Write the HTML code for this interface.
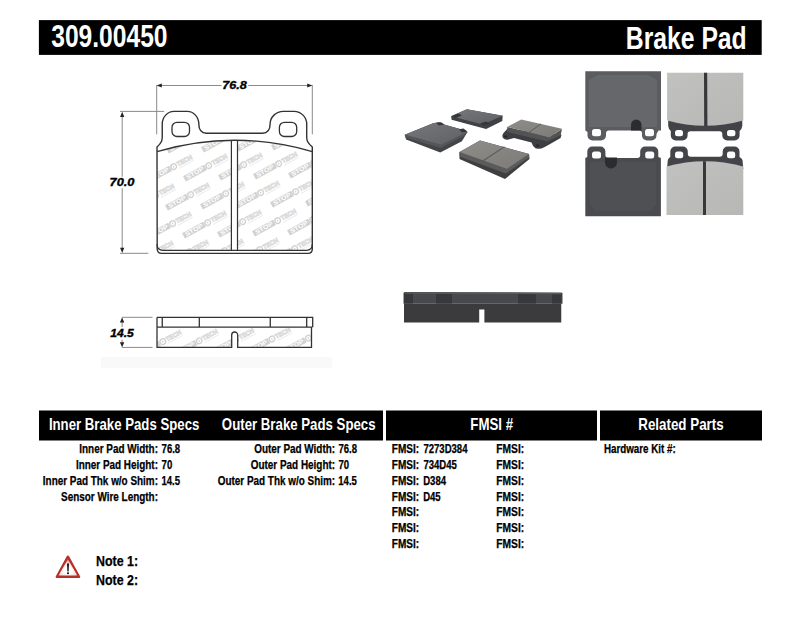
<!DOCTYPE html>
<html><head><meta charset="utf-8"><style>
html,body{margin:0;padding:0;background:#fff;width:800px;height:619px;overflow:hidden}
svg{position:absolute;left:0;top:0;display:block}
text{font-family:"Liberation Sans",sans-serif;font-weight:bold}
</style></head><body>
<svg width="800" height="619" viewBox="0 0 800 619">
<rect x="101" y="357" width="231" height="11" fill="#f9f9f9"/>
<rect x="38.9" y="20.1" width="722.8" height="34.8" fill="#000"/>
<rect x="39" y="410.5" width="344" height="30" fill="#000"/>
<rect x="386" y="410.5" width="211" height="30" fill="#000"/>
<rect x="600" y="410.5" width="162" height="30" fill="#000"/>
<defs>
<g id="logo">
 <rect x="0" y="-6" width="24" height="6" fill="#d2d2d2"/>
 <text x="2.3" y="-1.1" font-size="6" fill="#fff" textLength="19.4" lengthAdjust="spacingAndGlyphs">STOP</text>
 <circle cx="27.6" cy="-3" r="2.8" fill="none" stroke="#d2d2d2" stroke-width="1.4"/>
 <path d="M27,-4.6 L28.4,-3.1 L27,-1.3 Z" fill="#d2d2d2"/>
 <text x="31.6" y="-0.9" font-size="6.6" fill="none" stroke="#d9d9d9" stroke-width="0.8" textLength="16.5" lengthAdjust="spacingAndGlyphs">TECH</text>
 <rect x="31.6" y="0.7" width="16.5" height="0.8" fill="#e8e8e8"/>
</g>
<clipPath id="fm1"><path id="fmp" d="M157,151.6 Q234.5,128.9 312.3,151.6 L312.3,244.3 Q312.3,250.3 306.3,250.3 L163,250.3 Q157,250.3 157,244.3 Z"/></clipPath>
<clipPath id="fm2"><rect x="157" y="327.2" width="155" height="20.2"/></clipPath>
</defs>
<g clip-path="url(#fm1)"><use href="#logo" transform="translate(151.9,125.4) rotate(-28.5)"/><use href="#logo" transform="translate(133.9,154.4) rotate(-28.5)"/><use href="#logo" transform="translate(186.9,124.4) rotate(-28.5)"/><use href="#logo" transform="translate(168.9,153.4) rotate(-28.5)"/><use href="#logo" transform="translate(150.9,182.4) rotate(-28.5)"/><use href="#logo" transform="translate(132.9,211.4) rotate(-28.5)"/><use href="#logo" transform="translate(221.9,123.4) rotate(-28.5)"/><use href="#logo" transform="translate(203.9,152.4) rotate(-28.5)"/><use href="#logo" transform="translate(185.9,181.4) rotate(-28.5)"/><use href="#logo" transform="translate(167.9,210.4) rotate(-28.5)"/><use href="#logo" transform="translate(149.9,239.4) rotate(-28.5)"/><use href="#logo" transform="translate(131.9,268.4) rotate(-28.5)"/><use href="#logo" transform="translate(256.9,122.4) rotate(-28.5)"/><use href="#logo" transform="translate(238.9,151.4) rotate(-28.5)"/><use href="#logo" transform="translate(220.9,180.4) rotate(-28.5)"/><use href="#logo" transform="translate(202.9,209.4) rotate(-28.5)"/><use href="#logo" transform="translate(184.9,238.4) rotate(-28.5)"/><use href="#logo" transform="translate(166.9,267.4) rotate(-28.5)"/><use href="#logo" transform="translate(291.9,121.4) rotate(-28.5)"/><use href="#logo" transform="translate(273.9,150.4) rotate(-28.5)"/><use href="#logo" transform="translate(255.9,179.4) rotate(-28.5)"/><use href="#logo" transform="translate(237.9,208.4) rotate(-28.5)"/><use href="#logo" transform="translate(219.9,237.4) rotate(-28.5)"/><use href="#logo" transform="translate(201.9,266.4) rotate(-28.5)"/><use href="#logo" transform="translate(326.9,120.4) rotate(-28.5)"/><use href="#logo" transform="translate(308.9,149.4) rotate(-28.5)"/><use href="#logo" transform="translate(290.9,178.4) rotate(-28.5)"/><use href="#logo" transform="translate(272.9,207.4) rotate(-28.5)"/><use href="#logo" transform="translate(254.9,236.4) rotate(-28.5)"/><use href="#logo" transform="translate(236.9,265.4) rotate(-28.5)"/><use href="#logo" transform="translate(325.9,177.4) rotate(-28.5)"/><use href="#logo" transform="translate(307.9,206.4) rotate(-28.5)"/><use href="#logo" transform="translate(289.9,235.4) rotate(-28.5)"/><use href="#logo" transform="translate(271.9,264.4) rotate(-28.5)"/><use href="#logo" transform="translate(324.9,234.4) rotate(-28.5)"/><use href="#logo" transform="translate(306.9,263.4) rotate(-28.5)"/></g>
<rect x="231.4" y="135" width="6.1" height="116" fill="#fff"/>
<path d="M157,147 L157.2,249 Q157.5,253.4 161.5,253.4 L308,253.4 Q312.3,253.4 312.3,249 L312.3,147 C306.7,142 306.7,140 306.7,136.5 L306.7,124.1 A12.6,12.7 0 0 0 294.1,111.4 L283.4,111.4 A13.3,12.7 0 0 0 270.1,124.1 C270.1,130 268,133.2 262.5,133.2 L206.5,133.2 C201,133.2 198.8,130 198.8,124.1 A11.5,12.7 0 0 0 187.3,111.4 L174,111.4 A11.75,12.7 0 0 0 162.25,124.1 L162.25,136.5 C162.25,140 162.25,142 157,147 Z" fill="none" stroke="#333" stroke-width="1.4" stroke-linejoin="round"/>
<path d="M157,151.6 Q234.5,128.9 312.3,151.6 M312.3,244.3 Q312.3,250.3 306.3,250.3 L163,250.3 Q157,250.3 157,244.3" fill="none" stroke="#333" stroke-width="1.3"/>
<path d="M231.4,140.6 L231.4,250.3 M237.5,140.6 L237.5,250.3" stroke="#333" stroke-width="1.2"/>
<rect x="172" y="122.3" width="17.5" height="14.2" rx="5" fill="none" stroke="#333" stroke-width="1.3"/>
<rect x="279.4" y="122.3" width="17.3" height="14.2" rx="5" fill="none" stroke="#333" stroke-width="1.3"/>
<path d="M156.7,85 L156.7,134.3 M312.3,85 L312.3,134.3 M160,85.5 L221.5,85.5 M248.25,85.5 L309,85.5 M120,111.4 L164.2,111.4 M120,253.3 L148.3,253.3 M122.2,114 L122.2,176.75 M122.2,188.25 L122.2,250" stroke="#8a8a8a" stroke-width="1" fill="none"/>
<path d="M156.6,85.5 L161.8,83.4 L161.8,87.6 Z M312.4,85.5 L307.2,83.4 L307.2,87.6 Z M122.2,111.8 L120.1,117 L124.3,117 Z M122.2,253 L120.1,247.8 L124.3,247.8 Z" fill="#222"/>
<g clip-path="url(#fm2)">
<use href="#logo" transform="translate(103.6,358.4) rotate(-28.5)"/>
<use href="#logo" transform="translate(140.0,357.5) rotate(-28.5)"/>
<use href="#logo" transform="translate(176.4,356.6) rotate(-28.5)"/>
<use href="#logo" transform="translate(212.8,355.7) rotate(-28.5)"/>
<use href="#logo" transform="translate(249.2,354.8) rotate(-28.5)"/>
<use href="#logo" transform="translate(285.6,353.9) rotate(-28.5)"/>
<use href="#logo" transform="translate(322.0,353.0) rotate(-28.5)"/>
</g>
<rect x="231.7" y="330" width="6" height="18" fill="#fff"/>
<path d="M157,317.3 L312.7,317.3 L312.7,327.2 M157,327.2 L312.3,327.2 M157,317.3 L157,347.4 L231.7,347.4 L231.7,335 A3,3 0 0 1 237.7,335 L237.7,347.4 L311.5,347.4 L311.5,327.2 M162.25,317.3 L162.25,327.2 M199.3,317.3 L199.3,327.2 M270.25,317.3 L270.25,327.2 M306.7,317.3 L306.7,327.2" fill="none" stroke="#333" stroke-width="1.3"/>
<path d="M121.75,317.3 L152.5,317.3 M121.75,347.4 L152.5,347.4 M122.1,322 L122.1,327 M122.1,339.5 L122.1,343" stroke="#8a8a8a" stroke-width="1" fill="none"/>
<path d="M122.1,317.4 L119.9,322.5 L124.3,322.5 Z M122.1,347.3 L119.9,342.2 L124.3,342.2 Z" fill="#222"/>
<defs>
<linearGradient id="gtopA" x1="0" y1="0" x2="1" y2="1"><stop offset="0" stop-color="#76787c"/><stop offset="1" stop-color="#5e6064"/></linearGradient>
<linearGradient id="gfric" x1="0" y1="0" x2="1" y2="1"><stop offset="0" stop-color="#8e8d89"/><stop offset="1" stop-color="#7c7b77"/></linearGradient>
<linearGradient id="gback" x1="0" y1="0" x2="1" y2="1"><stop offset="0" stop-color="#66686c"/><stop offset="0.5" stop-color="#5b5d61"/><stop offset="1" stop-color="#505155"/></linearGradient>
<linearGradient id="gback2" x1="0" y1="0" x2="1" y2="1"><stop offset="0" stop-color="#56575b"/><stop offset="1" stop-color="#4a4b4f"/></linearGradient>
<linearGradient id="glite" x1="0" y1="0" x2="1" y2="1"><stop offset="0" stop-color="#c1c1bf"/><stop offset="1" stop-color="#b7b7b5"/></linearGradient>
</defs>
<path d="M451.1,116.2 L466.9,109.2 L502.7,115.75 L502.3,121 L486.1,128.9 L451.6,119.7 Z" fill="#404145"/>
<path d="M451.1,116.2 L466.9,109.2 L502.7,115.75 L482.6,124.5 Z" fill="url(#gtopA)"/>
<path d="M451.6,116.3 L458,113.6 L462,115.2 L456,118 Z M480,123.6 L486,121.5 L489.5,123.7 L483.5,125.5 Z" fill="#35363a"/>
<path d="M404.7,134.7 L433.7,123 L439.4,122.5 L444,124.4 L460,129 L467.5,131.9 L461.9,141.2 L440.3,152.5 L406.1,139.4 Z" fill="#434448"/>
<path d="M404.7,134.7 L433.7,123 L439.4,122.5 L444,124.4 L460,129 L467.5,131.9 L441.2,145 Z" fill="url(#gtopA)"/>
<path d="M436,122.8 L441,122.3 L444.5,124.6 L439,125.6 Z M459,129.2 L463.5,128.4 L467.5,131.5 L462,132.5 Z" fill="#35363a"/>
<path d="M404.7,134.7 L405.5,137.5 L440.8,148 L464.5,135.5 L467.5,131.9 L441.2,145 Z" fill="#55565a"/>
<path d="M503.5,133 Q501.5,135.5 503,138 Q505,140.3 508.5,139.5 L514,138.1 L531.5,142.6 Q532.5,146.5 535.5,148.2 Q540,149.5 543.7,147.5 L547.5,145.5 L560.6,138.1 L561.5,134.4 L507.2,129 Z" fill="#3d3e41"/>
<ellipse cx="505.6" cy="136.6" rx="1.7" ry="1.1" fill="#252527"/><ellipse cx="537.6" cy="145.7" rx="1.8" ry="1.1" fill="#252527"/>
<path d="M507.2,126.9 L507.2,132 L547.5,141.4 L560.6,135.3 L562,128.7 L549.4,137.6 Z" fill="#535355"/>
<path d="M507.2,126.9 L521.2,119.4 L562,128.7 L549.4,137.6 Z" fill="url(#gfric)"/>
<path d="M541,123.9 L528.5,132.8" stroke="#5d5c5a" stroke-width="1"/>
<path d="M459.5,152 L480,140.5 L529,154 L529.5,159 L505,179 L459.5,159 Z" fill="#3f3f42"/>
<path d="M459.5,152 L459.5,156.5 L506,173.5 L529.2,157.5 L529,154 L507,169 Z" fill="#5b5b5c"/>
<path d="M459.5,152 L480,140.5 L529,154 L507,169 Z" fill="url(#gfric)"/>
<path d="M504.5,146.8 L483.2,160.7" stroke="#5d5c5a" stroke-width="1.1"/>
<path d="M585.3,71.2 L661,71.2 L661,130.5 L658.5,130.5 L656.5,134 L656.5,135.5 A5,5 0 0 1 651.5,140.5 L647,140.5 A5,5 0 0 1 642,135.5 L642,133.5 Q642,130.5 639,130.5 L609,130.5 Q606,130.5 606,133.5 L606,135.5 A5,5 0 0 1 601,140.5 L592.5,140.5 A5,5 0 0 1 587.5,135.5 L587.5,132 L585.3,130.5 Z" fill="#5a5c60"/>
<path d="M589,80 L598,75 L648,75 L657,80 L657,127 L589,127 Z" fill="#65676b"/>
<rect x="592" y="129" width="9" height="7.2" rx="2.5" fill="#fdfdfd"/><rect x="645" y="129" width="9" height="7.2" rx="2.5" fill="#fdfdfd"/>
<path d="M631,130.5 L631,124.7 A5.25,5.25 0 0 1 641.5,124.7 L641.5,130.5 Z" fill="#2b2c2f"/>
<path d="M668.2,118 L742.3,118 L742.3,126 Q742,129 739.6,131 L739.6,135.5 A5,5 0 0 1 734.6,140.5 L727.3,140.5 A5,5 0 0 1 722.3,135.5 L722.3,134 Q722.3,131.3 719.5,131.3 L690.5,131.3 Q687.6,131.3 687.6,134 L687.6,135.5 A5,5 0 0 1 682.6,140.5 L675.8,140.5 A5,5 0 0 1 670.8,135.5 L670.8,131 Q668.5,129 668.2,126 Z" fill="#424346"/>
<rect x="675" y="130" width="8" height="6.3" rx="2.5" fill="#fdfdfd"/><rect x="727" y="130" width="8.4" height="6.3" rx="2.5" fill="#fdfdfd"/>
<path d="M667.1,72.75 L743.3,72.75 L743.3,120.5 Q705.2,131 667.1,120.5 Z" fill="url(#glite)"/>
<path d="M704,72.75 L707.2,72.75 L707.4,125.9 L704.2,125.9 Z" fill="#38383a"/>
<path d="M585.3,158 L587.3,157 L587.3,151.5 A5,5 0 0 1 592.3,146.5 L600.4,146.5 A5,5 0 0 1 605.4,151.5 L605.4,155 Q605.4,158 608.4,158 L637.2,158 Q640.2,158 640.2,155 L640.2,151.5 A5,5 0 0 1 645.2,146.5 L653.3,146.5 A5,5 0 0 1 658.3,151.5 L658.3,157 L660.9,158 L660.9,216.2 L585.3,216.2 Z" fill="#4a4b4f"/>
<path d="M590,162 L656,162 L656,205 L650,211 L596,211 L590,205 Z" fill="#4f5054"/>
<rect x="592" y="151.6" width="9" height="6.8" rx="2.5" fill="#fdfdfd"/><rect x="645.2" y="151.6" width="9" height="6.8" rx="2.5" fill="#fdfdfd"/>
<path d="M605,157.5 L605,162.5 A6,6 0 0 0 617,162.5 L617,157.5 Z" fill="#2b2c2f"/>
<path d="M667,169 L667.8,160 Q668.5,158 670.3,157 L670.3,151.5 A5,5 0 0 1 675.3,146.5 L682.8,146.5 A5,5 0 0 1 687.8,151.5 L687.8,153.8 Q687.8,156.8 690.8,156.8 L719.7,156.8 Q722.7,156.8 722.7,153.8 L722.7,151.5 A5,5 0 0 1 727.7,146.5 L734.5,146.5 A5,5 0 0 1 739.5,151.5 L739.5,157 Q741.5,158 742.5,160 L743.3,169 Z" fill="#434447"/>
<rect x="675" y="151.6" width="8.2" height="6.6" rx="2.5" fill="#fdfdfd"/><rect x="727" y="151.6" width="8.2" height="6.6" rx="2.5" fill="#fdfdfd"/>
<path d="M666.5,166.5 Q705,156 743.3,166.5 L743.3,215 L666.5,215 Z" fill="url(#glite)"/>
<path d="M703,161.2 L706,161.2 L706,215 L703,215 Z" fill="#38383a"/>
<path d="M403.5,293 L404.5,292 L561.5,292.5 L562.5,293.5 L562.5,303.8 L403.5,303.8 Z" fill="#48494c"/>
<path d="M404,303.8 L561.25,303.8 L561.25,322.5 L484.4,322.5 L484.4,309.6 L479.2,309.6 L479.2,322.5 L404,322.5 Z" fill="#3b3b3e"/>
<path d="M404,293 L413,293 L413,303.5 L404,303.5 Z M436,293 L452,293 L452,303.5 L436,303.5 Z M518,293 L536,293 L536,303.5 L518,303.5 Z M552,293 L561.5,293 L561.5,303.5 L552,303.5 Z" fill="#37383b"/>
<path d="M405,292.6 L561,293 L561,294.2 L405,293.8 Z" fill="#5a5b5e"/>
<defs><radialGradient id="gw" cx="0.5" cy="0.7" r="0.62"><stop offset="0.3" stop-color="#ffffff"/><stop offset="0.75" stop-color="#f7dcda"/><stop offset="1" stop-color="#e79d97"/></radialGradient></defs>
<path d="M67.8,555.6 Q68.6,555.6 69.2,556.6 L80.2,576.5 Q80.6,577.9 79.2,577.9 L56.6,577.9 Q55.2,577.9 55.7,576.5 L66.6,556.6 Q67.1,555.6 67.8,555.6 Z" fill="#b5302b"/>
<path d="M67.9,559.3 L77.3,575.5 L58.5,575.5 Z" fill="url(#gw)"/>
<path d="M67,563.4 L69,563.4 L68.6,571.4 L67.4,571.4 Z" fill="#111"/><rect x="67.05" y="572.4" width="1.9" height="1.7" fill="#111"/>
<text x="51.23" y="47.40" font-size="31" textLength="116.28" lengthAdjust="spacingAndGlyphs" fill="#fff">309.00450</text>
<text x="625.84" y="48.90" font-size="31.7" textLength="120.88" lengthAdjust="spacingAndGlyphs" fill="#fff">Brake Pad</text>
<text x="48.88" y="429.76" font-size="17" textLength="150.47" lengthAdjust="spacingAndGlyphs" fill="#fff">Inner Brake Pads Specs</text>
<text x="221.86" y="429.76" font-size="17" textLength="153.68" lengthAdjust="spacingAndGlyphs" fill="#fff">Outer Brake Pads Specs</text>
<text x="470.36" y="429.60" font-size="17" textLength="42.75" lengthAdjust="spacingAndGlyphs" fill="#fff">FMSI #</text>
<text x="638.31" y="429.60" font-size="17" textLength="85.35" lengthAdjust="spacingAndGlyphs" fill="#fff">Related Parts</text>
<text x="79.30" y="453.40" font-size="12" textLength="78.65" lengthAdjust="spacingAndGlyphs" fill="#000" stroke="#000" stroke-width="0.25">Inner Pad Width:</text>
<text x="75.90" y="469.25" font-size="12" textLength="82.06" lengthAdjust="spacingAndGlyphs" fill="#000" stroke="#000" stroke-width="0.25">Inner Pad Height:</text>
<text x="42.85" y="485.10" font-size="12" textLength="115.10" lengthAdjust="spacingAndGlyphs" fill="#000" stroke="#000" stroke-width="0.25">Inner Pad Thk w/o Shim:</text>
<text x="61.11" y="500.95" font-size="12" textLength="96.84" lengthAdjust="spacingAndGlyphs" fill="#000" stroke="#000" stroke-width="0.25">Sensor Wire Length:</text>
<text x="161.59" y="453.40" font-size="12" textLength="18.60" lengthAdjust="spacingAndGlyphs" fill="#000" stroke="#000" stroke-width="0.25">76.8</text>
<text x="161.59" y="469.25" font-size="12" textLength="10.63" lengthAdjust="spacingAndGlyphs" fill="#000" stroke="#000" stroke-width="0.25">70</text>
<text x="161.40" y="485.10" font-size="12" textLength="18.60" lengthAdjust="spacingAndGlyphs" fill="#000" stroke="#000" stroke-width="0.25">14.5</text>
<text x="254.20" y="453.40" font-size="12" textLength="80.85" lengthAdjust="spacingAndGlyphs" fill="#000" stroke="#000" stroke-width="0.25">Outer Pad Width:</text>
<text x="250.79" y="469.25" font-size="12" textLength="84.26" lengthAdjust="spacingAndGlyphs" fill="#000" stroke="#000" stroke-width="0.25">Outer Pad Height:</text>
<text x="217.75" y="485.10" font-size="12" textLength="117.30" lengthAdjust="spacingAndGlyphs" fill="#000" stroke="#000" stroke-width="0.25">Outer Pad Thk w/o Shim:</text>
<text x="338.49" y="453.40" font-size="12" textLength="18.60" lengthAdjust="spacingAndGlyphs" fill="#000" stroke="#000" stroke-width="0.25">76.8</text>
<text x="338.49" y="469.25" font-size="12" textLength="10.63" lengthAdjust="spacingAndGlyphs" fill="#000" stroke="#000" stroke-width="0.25">70</text>
<text x="338.30" y="485.10" font-size="12" textLength="18.60" lengthAdjust="spacingAndGlyphs" fill="#000" stroke="#000" stroke-width="0.25">14.5</text>
<text x="391.83" y="453.25" font-size="12" textLength="27.33" lengthAdjust="spacingAndGlyphs" fill="#000" stroke="#000" stroke-width="0.25">FMSI:</text>
<text x="496.31" y="453.25" font-size="12" textLength="27.87" lengthAdjust="spacingAndGlyphs" fill="#000" stroke="#000" stroke-width="0.25">FMSI:</text>
<text x="423.39" y="453.25" font-size="12" textLength="44.11" lengthAdjust="spacingAndGlyphs" fill="#000" stroke="#000" stroke-width="0.25">7273D384</text>
<text x="391.83" y="469.00" font-size="12" textLength="27.33" lengthAdjust="spacingAndGlyphs" fill="#000" stroke="#000" stroke-width="0.25">FMSI:</text>
<text x="496.31" y="469.00" font-size="12" textLength="27.87" lengthAdjust="spacingAndGlyphs" fill="#000" stroke="#000" stroke-width="0.25">FMSI:</text>
<text x="423.39" y="469.00" font-size="12" textLength="33.48" lengthAdjust="spacingAndGlyphs" fill="#000" stroke="#000" stroke-width="0.25">734D45</text>
<text x="391.83" y="484.75" font-size="12" textLength="27.33" lengthAdjust="spacingAndGlyphs" fill="#000" stroke="#000" stroke-width="0.25">FMSI:</text>
<text x="496.31" y="484.75" font-size="12" textLength="27.87" lengthAdjust="spacingAndGlyphs" fill="#000" stroke="#000" stroke-width="0.25">FMSI:</text>
<text x="423.16" y="484.75" font-size="12" textLength="22.85" lengthAdjust="spacingAndGlyphs" fill="#000" stroke="#000" stroke-width="0.25">D384</text>
<text x="391.83" y="500.50" font-size="12" textLength="27.33" lengthAdjust="spacingAndGlyphs" fill="#000" stroke="#000" stroke-width="0.25">FMSI:</text>
<text x="496.31" y="500.50" font-size="12" textLength="27.87" lengthAdjust="spacingAndGlyphs" fill="#000" stroke="#000" stroke-width="0.25">FMSI:</text>
<text x="423.16" y="500.50" font-size="12" textLength="17.53" lengthAdjust="spacingAndGlyphs" fill="#000" stroke="#000" stroke-width="0.25">D45</text>
<text x="391.83" y="516.25" font-size="12" textLength="27.33" lengthAdjust="spacingAndGlyphs" fill="#000" stroke="#000" stroke-width="0.25">FMSI:</text>
<text x="496.31" y="516.25" font-size="12" textLength="27.87" lengthAdjust="spacingAndGlyphs" fill="#000" stroke="#000" stroke-width="0.25">FMSI:</text>
<text x="391.83" y="532.00" font-size="12" textLength="27.33" lengthAdjust="spacingAndGlyphs" fill="#000" stroke="#000" stroke-width="0.25">FMSI:</text>
<text x="496.31" y="532.00" font-size="12" textLength="27.87" lengthAdjust="spacingAndGlyphs" fill="#000" stroke="#000" stroke-width="0.25">FMSI:</text>
<text x="391.83" y="547.75" font-size="12" textLength="27.33" lengthAdjust="spacingAndGlyphs" fill="#000" stroke="#000" stroke-width="0.25">FMSI:</text>
<text x="496.31" y="547.75" font-size="12" textLength="27.87" lengthAdjust="spacingAndGlyphs" fill="#000" stroke="#000" stroke-width="0.25">FMSI:</text>
<text x="603.95" y="453.40" font-size="12" textLength="71.70" lengthAdjust="spacingAndGlyphs" fill="#000" stroke="#000" stroke-width="0.25">Hardware Kit #:</text>
<text x="96.07" y="566.30" font-size="14.4" textLength="42.02" lengthAdjust="spacingAndGlyphs" fill="#000" stroke="#000" stroke-width="0.25">Note 1:</text>
<text x="96.07" y="585.05" font-size="14.4" textLength="42.02" lengthAdjust="spacingAndGlyphs" fill="#000" stroke="#000" stroke-width="0.25">Note 2:</text>
<text x="222.32" y="88.60" font-size="11.1" textLength="24.50" lengthAdjust="spacingAndGlyphs" fill="#000" font-style="italic" stroke="#000" stroke-width="0.35">76.8</text>
<text x="109.56" y="185.85" font-size="10.8" textLength="24.88" lengthAdjust="spacingAndGlyphs" fill="#000" font-style="italic" stroke="#000" stroke-width="0.35">70.0</text>
<text x="110.21" y="336.75" font-size="10.8" textLength="23.55" lengthAdjust="spacingAndGlyphs" fill="#000" font-style="italic" stroke="#000" stroke-width="0.35">14.5</text>
</svg>
</body></html>
